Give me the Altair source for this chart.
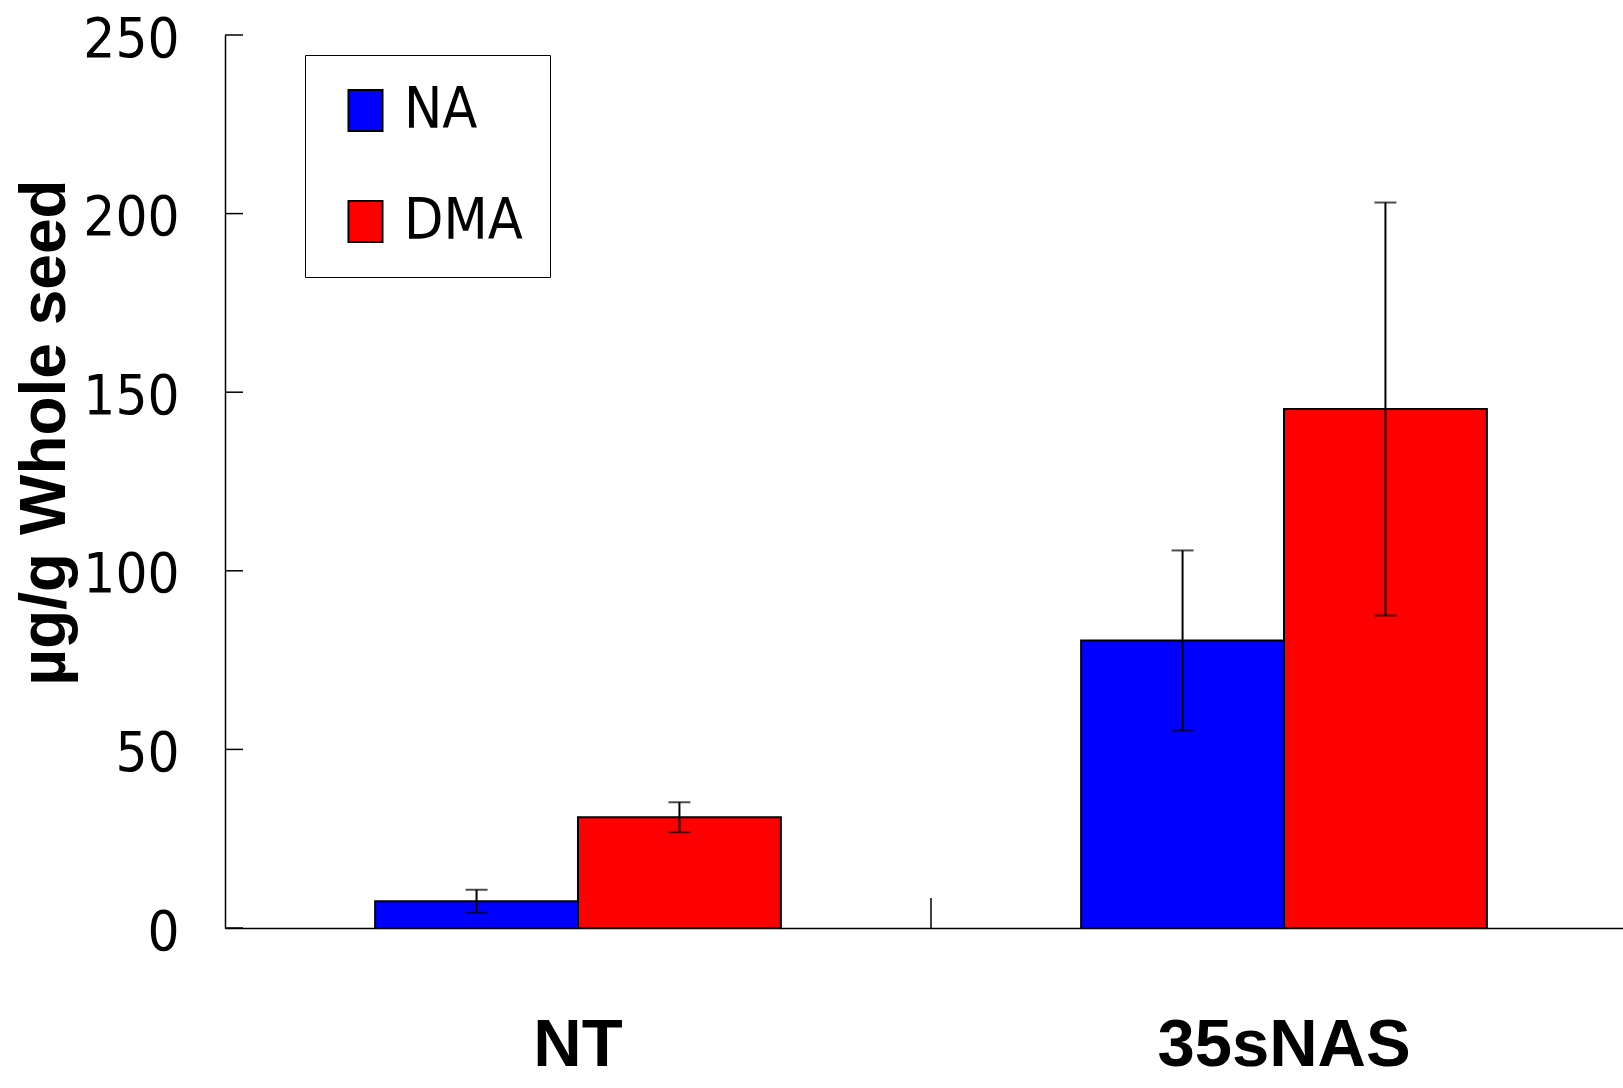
import altair as alt
import pandas as pd

groups = ["NT", "NT", "35sNAS", "35sNAS"]
series = ["NA", "DMA", "NA", "DMA"]
means = [7.5, 31.0, 80.5, 145.3]
errs = [3.2, 4.2, 25.2, 57.8]
y_ticks = [0, 50, 100, 150, 200, 250]
group_order = ["NT", "35sNAS"]
series_order = ["NA", "DMA"]
colors = ["#0000ff", "#ff0000"]

df = pd.DataFrame({"group": groups, "series": series, "mean": means, "err": errs})
df["lo"] = df["mean"] - df["err"]
df["hi"] = df["mean"] + df["err"]

NARROW = "Liberation Sans Narrow, DejaVu Sans Condensed, Roboto, sans-serif"
BOLD = "Liberation Sans, Arial, sans-serif"

W, H = 1398, 893
XRANGE = 1412

xs = alt.Scale(domain=group_order, paddingInner=0, paddingOuter=0, range=[0, XRANGE])
xo = alt.Scale(domain=series_order, paddingInner=0, paddingOuter=0.74)
ys = alt.Scale(domain=[0, 250], nice=False, zero=True)

x_enc = alt.X("group:N", scale=xs, sort=group_order,
              axis=alt.Axis(title=None, ticks=False, labelFont=BOLD, labelFontWeight="bold",
                            labelFontSize=67, labelColor="black", labelPadding=84,
                            labelLimit=0, labelAngle=0, domainColor="black", domainWidth=1.5))

bars = alt.Chart(df).mark_bar(stroke="black", strokeWidth=2).encode(
    x=x_enc,
    xOffset=alt.XOffset("series:N", scale=xo, sort=series_order),
    y=alt.Y("mean:Q", scale=ys,
            axis=alt.Axis(title="µg/g Whole seed", values=y_ticks, ticks=False, grid=False,
                          labelFont=NARROW, labelFontSize=56, labelColor="black",
                          labelPadding=46, labelOffset=4,
                          titleFont=BOLD, titleFontWeight="bold", titleFontSize=64,
                          titleColor="black", titleX=-161, titleY=397,
                          titleBaseline="alphabetic",
                          domainColor="black", domainWidth=1.5)),
    color=alt.Color("series:N", sort=series_order,
                    scale=alt.Scale(domain=series_order, range=colors),
                    legend=alt.Legend(orient="none", legendX=80, legendY=20, title=None,
                                      symbolType="M-0.83,-1H0.83V1H-0.83Z",
                                      symbolSize=1681, symbolStrokeColor="black",
                                      symbolStrokeWidth=2, symbolOffset=5,
                                      labelFont=NARROW, labelFontSize=57, labelColor="black",
                                      labelOffset=10, rowPadding=53, padding=27,
                                      strokeColor="black", fillColor="white")),
)

rules = alt.Chart(df).mark_rule(color="black", strokeWidth=2).encode(
    x=alt.X("group:N", scale=xs, sort=group_order),
    xOffset=alt.XOffset("series:N", scale=xo, sort=series_order),
    y=alt.Y("lo:Q", scale=ys),
    y2="hi:Q",
)
caps_lo = alt.Chart(df).mark_tick(color="black", thickness=2, size=22).encode(
    x=alt.X("group:N", scale=xs, sort=group_order),
    xOffset=alt.XOffset("series:N", scale=xo, sort=series_order),
    y=alt.Y("lo:Q", scale=ys),
)
caps_hi = alt.Chart(df).mark_tick(color="black", thickness=2, size=22).encode(
    x=alt.X("group:N", scale=xs, sort=group_order),
    xOffset=alt.XOffset("series:N", scale=xo, sort=series_order),
    y=alt.Y("hi:Q", scale=ys),
)

ytick_df = pd.DataFrame({"v": y_ticks})
yticks = alt.Chart(ytick_df).mark_rule(color="black", strokeWidth=1.5).encode(
    y=alt.Y("v:Q", scale=ys),
    x=alt.value(0),
    x2=alt.value(18),
)

div_df = pd.DataFrame({"group": group_order[1:]})
xdiv = alt.Chart(div_df).mark_rule(color="black", strokeWidth=1.5).encode(
    x=alt.X("group:N", scale=xs, sort=group_order, bandPosition=0),
    y=alt.value(H - 30),
    y2=alt.value(H),
)

chart = alt.layer(bars, rules, caps_lo, caps_hi, yticks, xdiv).properties(
    width=W, height=H,
    autosize=alt.AutoSizeParams(type="none"),
    padding={"left": 225, "top": 35, "right": 0, "bottom": 160},
    background="white",
).configure_view(stroke=None)

chart.save("out.html", embed_options={"renderer": "svg", "actions": False})
